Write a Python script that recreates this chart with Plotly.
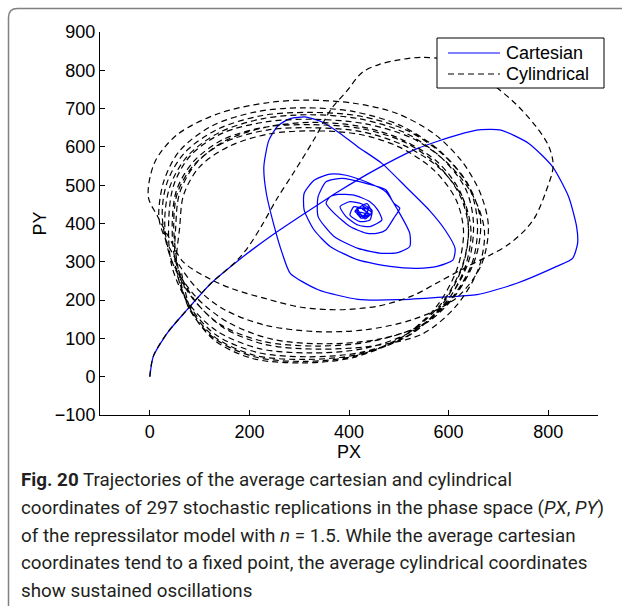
import plotly.graph_objects as go

# ---------------- data ----------------
cart_x = [0, 7, 35, 75, 123, 179, 242, 306, 378, 458, 538, 617, 665, 705, 761, 809, 841, 857, 859,
          849, 817, 737, 657, 577, 498, 418, 338, 282, 266, 250, 234, 229, 239, 258, 282, 314, 346,
          378, 418, 466, 514, 561, 593, 613, 609, 577, 538, 482, 418, 362, 330, 310, 310, 330, 362,
          394, 434, 474, 498, 522, 522, 498, 466, 418, 370, 338, 338, 354, 386, 434, 474, 490, 502,
          490, 474, 458, 434, 402, 370, 354, 362, 378, 410, 442, 458, 466, 442, 418, 394, 382, 402,
          426, 446, 442, 422, 402, 410, 430, 438, 422, 414, 426, 445, 432, 418, 440, 428, 412, 436,
          446, 424, 416, 438, 430, 420, 442, 426]
cart_y = [0, 53, 114, 175, 244, 305, 366, 422, 483, 544, 596, 631, 645, 644, 609, 548, 470, 392, 348,
          309, 288, 244, 214, 207, 201, 202, 227, 270, 322, 392, 479, 548, 617, 656, 674, 678, 665,
          639, 600, 557, 496, 435, 383, 335, 305, 288, 283, 288, 305, 340, 383, 435, 479, 513, 529,
          526, 509, 483, 435, 374, 340, 324, 322, 335, 366, 418, 470, 509, 518, 505, 488, 453, 440,
          414, 383, 375, 375, 392, 427, 453, 470, 476, 474, 457, 435, 409, 392, 396, 418, 444, 457,
          451, 435, 409, 405, 422, 444, 437, 422, 418, 431, 446, 428, 412, 438, 440, 420, 432, 452,
          426, 414, 440, 436, 418, 430, 424, 438]

cyl_x = [0, 7, 35, 75, 123, 170, 195, 225, 255, 290, 330, 365, 395, 427, 460, 495, 547, 600, 650,
         687, 735, 775, 801, 810, 795, 775, 755, 720, 681, 641, 581, 527, 461, 401, 361, 301, 235,
         167, 121, 67, 40, 15,
         -3, 10, 55, 140, 240, 320, 410, 495, 570, 628, 665, 680, 665, 615, 530, 430, 330, 230, 150,
         95, 55, 25,
         18, 28, 60, 125, 215, 310, 410, 505, 582, 638, 664, 654, 615, 555, 460, 350, 245, 160, 95,
         45,
         25, 35, 70, 136, 226, 322, 424, 518, 592, 642, 658, 648, 608, 544, 444, 334, 228, 142, 84,
         42,
         30, 40, 75, 140, 228, 322, 422, 514, 587, 635, 650, 640, 598, 532, 432, 322, 218, 134, 78,
         44,
         38, 48, 82, 146, 236, 332, 434, 528, 600, 650, 672, 660, 616, 548, 446, 336, 232, 148, 90,
         52,
         45, 54, 88, 148, 234, 326, 424, 512, 580, 624, 640, 628, 588, 524, 426, 318, 214, 132, 80,
         52,
         52, 60, 92, 150, 235, 325, 420, 505, 580, 625, 640, 628, 585, 512, 415, 310, 210, 130, 80,
         58,
         48, 56, 90, 150, 236, 328, 424, 510, 584, 630, 645, 632, 588, 514, 418, 312, 210, 130, 80,
         54,
         60, 68, 100, 160, 240, 330, 420, 500, 570, 615, 630, 618, 575, 503, 408, 305, 205, 130, 84,
         64]
cyl_y = [0, 53, 114, 175, 244, 297, 334, 395, 464, 535, 620, 700, 745, 795, 815, 826, 834, 826, 800,
         765, 712, 654, 602, 550, 482, 420, 385, 345, 316, 290, 248, 211, 185, 176, 175, 182, 203,
         229, 255, 300, 360, 420,
         470, 560, 632, 688, 716, 722, 714, 688, 635, 560, 475, 390, 290, 205, 150, 122, 118, 135, 175,
         230, 300, 380,
         420, 510, 590, 655, 692, 702, 692, 655, 590, 505, 410, 310, 215, 140, 98, 86, 98, 140, 205,
         300,
         420, 508, 585, 646, 682, 690, 680, 642, 576, 492, 400, 300, 208, 134, 92, 80, 92, 136, 208,
         310,
         400, 495, 575, 638, 674, 684, 673, 636, 570, 488, 400, 300, 200, 122, 74, 62, 74, 120, 192,
         290,
         410, 500, 578, 636, 666, 672, 660, 622, 555, 470, 380, 282, 186, 112, 80, 72, 84, 128, 200,
         300,
         400, 488, 562, 620, 652, 658, 648, 612, 550, 470, 385, 288, 190, 110, 64, 52, 64, 110, 185,
         285,
         390, 480, 555, 615, 652, 664, 654, 620, 558, 478, 390, 292, 190, 108, 55, 40, 52, 100, 175,
         275,
         395, 482, 555, 612, 644, 650, 640, 604, 542, 462, 378, 282, 182, 104, 58, 45, 56, 104, 180,
         280,
         390, 475, 548, 602, 634, 642, 633, 600, 540, 462, 380, 285, 182, 100, 50, 36, 48, 95, 170,
         270]

x_ticks = [0, 200, 400, 600, 800]
y_ticks = [-100, 0, 100, 200, 300, 400, 500, 600, 700, 800, 900]
series_names = ["Cartesian", "Cylindrical"]

caption_lines = [
    "<b>Fig. 20</b> Trajectories of the average cartesian and cylindrical",
    "coordinates of 297 stochastic replications in the phase space (<i>PX</i>, <i>PY</i>)",
    "of the repressilator model with <i>n</i> = 1.5. While the average cartesian",
    "coordinates tend to a fixed point, the average cylindrical coordinates",
    "show sustained oscillations",
]

# ---------------- layout helpers (pixel -> paper) ----------------
W, H = 622, 606
L, R, T, B = 100, 598, 32, 415


def px(xp):
    return (xp - L) / (R - L)


def py(yp):
    return (B - yp) / (B - T)


fig = go.Figure()
fig.add_trace(go.Scatter(x=cart_x, y=cart_y, mode="lines", name=series_names[0],
                         line=dict(color="#0000ff", width=1.25, shape="spline", smoothing=0.6),
                         showlegend=False))
fig.add_trace(go.Scatter(x=cyl_x, y=cyl_y, mode="lines", name=series_names[1],
                         line=dict(color="#000000", width=1.2, dash="6px,4px", shape="spline",
                                   smoothing=0.9),
                         showlegend=False))

shapes = []
annotations = []

# legend box (drawn by hand so that the line samples are as long as in the reference)
shapes.append(dict(type="rect", xref="paper", yref="paper", x0=px(437), x1=px(604), y0=py(88),
                   y1=py(38), line=dict(color="black", width=1), fillcolor="white", layer="above"))
for i, (name, col, dash) in enumerate(zip(series_names, ["#0000ff", "#000000"], ["solid", "6px,4px"])):
    yy = 53 + i * 21
    shapes.append(dict(type="line", xref="paper", yref="paper", x0=px(448), x1=px(500), y0=py(yy),
                       y1=py(yy), line=dict(color=col, width=1.2, dash=dash), layer="above"))
    annotations.append(dict(text=name, xref="paper", yref="paper", x=px(504), y=py(yy),
                            xanchor="left", yanchor="middle", showarrow=False,
                            font=dict(family="Liberation Sans, Arial", size=18, color="black")))

# outer rounded frame of the figure panel
r = 9
path = (f"M {px(8.5)},{py(640)} L {px(8.5)},{py(8.5 + r)} Q {px(8.5)},{py(8.5)} {px(8.5 + r)},{py(8.5)} "
        f"L {px(660)},{py(8.5)}")
shapes.append(dict(type="path", xref="paper", yref="paper", path=path,
                   line=dict(color="#808080", width=1.5), layer="above"))

# caption
for i, txt in enumerate(caption_lines):
    annotations.append(dict(text=txt, xref="paper", yref="paper", x=px(19), y=py(480 + i * 27.8),
                            xanchor="left", yanchor="middle", showarrow=False, align="left",
                            font=dict(family="Roboto", size=18.8, color="#231f20")))

fig.update_layout(
    width=W, height=H,
    margin=dict(l=L, r=W - R, t=T, b=H - B, autoexpand=False),
    paper_bgcolor="white", plot_bgcolor="white",
    font=dict(family="Liberation Sans, Arial", size=18, color="black"),
    shapes=shapes, annotations=annotations, showlegend=False,
    xaxis=dict(range=[-100, 900], tickvals=x_ticks, ticks="inside", ticklen=5, tickcolor="black",
               showline=True, linecolor="black", linewidth=1, showgrid=False, zeroline=False,
               automargin=False,
               title=dict(text="PX", standoff=0, font=dict(size=18)),
               tickfont=dict(size=18)),
    yaxis=dict(range=[-100, 900], tickvals=y_ticks, ticks="inside", ticklen=5, tickcolor="black",
               showline=True, linecolor="black", linewidth=1, showgrid=False, zeroline=False,
               automargin=False,
               title=dict(text="PY", standoff=3, font=dict(size=18)),
               tickfont=dict(size=18)),
)

fig.write_html("out.html", config={"displayModeBar": False},
               post_script="document.body.style.margin='0';document.body.style.overflow='hidden';")
